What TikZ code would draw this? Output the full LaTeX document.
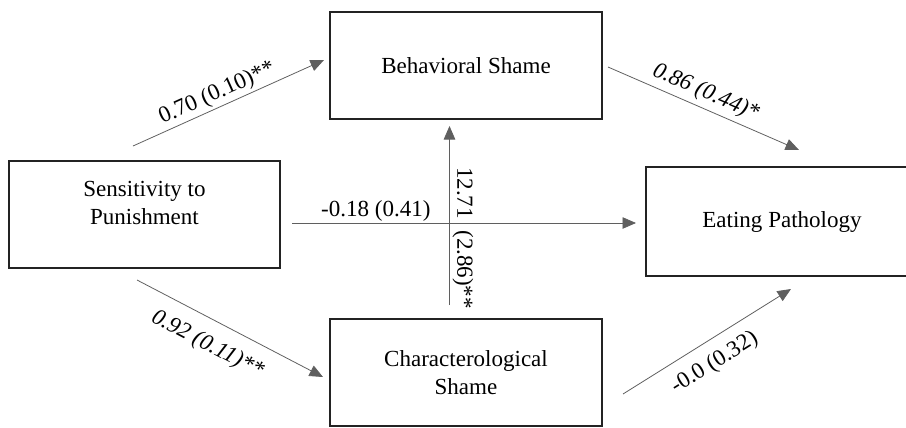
\documentclass[tikz,border=0pt]{standalone}
\usepackage{fontspec}
\setmainfont{Liberation Serif}
\usetikzlibrary{arrows.meta,positioning,calc}
\definecolor{pathDark}{RGB}{35,35,35}
\definecolor{pathGrey}{RGB}{95,95,95}
\tikzset{
  varbox/.style={
    rectangle, draw=pathDark, line width=1pt, align=center, outer sep=0pt,
    minimum width=5.44cm, minimum height=2.14cm, inner sep=2pt,
    font=\fontsize{13.1}{15.9}\selectfont},
  pathline/.style={-{Triangle[length=2.7mm,width=2.3mm]}, draw=pathGrey, line width=0.45pt},
  coef/.style={font=\fontsize{13.1}{15.9}\selectfont, inner sep=1.5pt},
  coefit/.style={coef, font=\fontsize{13.1}{15.9}\selectfont\itshape}
}

\begin{document}
\begin{tikzpicture}
        \path[use as bounding box, clip] (0,0) rectangle (18.12,-8.54);

        \node[varbox, minimum width=5.42cm, text depth=0.45cm] (sens) at (2.89,-4.29) {Sensitivity to\\ Punishment};
        \node[varbox, above right=0.84cm and 1.0cm of sens] (beh) {Behavioral Shame};
        \node[varbox, below right=1.02cm and 1.0cm of sens] (char) {Characterological\\ Shame};
        \node[varbox, minimum height=2.18cm, below right=0.96cm and 0.88cm of beh] (eat) {Eating Pathology};

        \draw[pathline] ([shift={(-0.23,0.30)}]sens.north) -- ([shift={(-0.12,0.11)}]beh.west)
          node[coef, sloped, above, pos=0.47] {0.70 (0.10)**};
        \draw[pathline] ([shift={(0.12,-0.03)}]beh.east) -- ([shift={(0.34,0.34)}]eat.north)
          node[coefit, sloped, above, pos=0.48, inner sep=2.5pt] {0.86 (0.44)*};
        \draw[pathline] ([shift={(-0.15,-0.24)}]sens.south) -- ([shift={(-0.14,-0.09)}]char.west)
          node[coefit, sloped, below, pos=0.44, inner sep=8pt] {0.92 (0.11)**};
        \draw[pathline] ([shift={(0.42,-0.43)}]char.east) -- ([shift={(0.18,-0.26)}]eat.south)
          node[coef, sloped, below, pos=0.475, inner sep=6.5pt] {-0.0 (0.32)};

        \coordinate (direct) at ([shift={(0.24,-0.17)}]sens.east);
        \draw[pathline, shorten >=0.2cm] (direct) -- (direct -| eat.west)
          node[coef, above, pos=0.237, inner sep=0.5pt] {-0.18 (0.41)};

        \coordinate (mediate) at ([shift={(-0.33,0.28)}]char.north);
        \draw[pathline, shorten >=0.14cm] (mediate) -- (mediate |- beh.south)
          node[coef, rotate=-90, anchor=south, pos=0.36] {12.71~~(2.86)**};
      \end{tikzpicture}
\end{document}
